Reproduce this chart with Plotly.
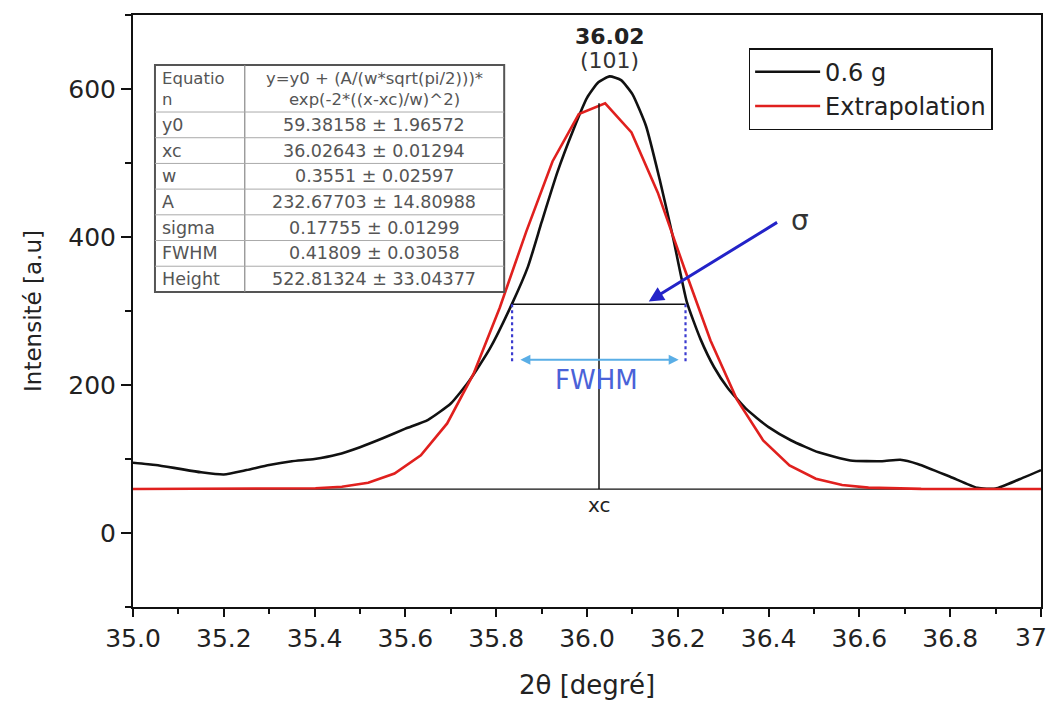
import plotly.graph_objects as go

# Measured XRD profile around the (101) reflection, sample 0.6 g
theta_x = [35.00, 35.05, 35.10, 35.15, 35.20, 35.25, 35.30, 35.35, 35.40, 35.45,
           35.50, 35.55, 35.60, 35.65, 35.70, 35.74, 35.785, 35.835, 35.87, 35.90,
           35.935, 35.97, 36.00, 36.025, 36.05, 36.075, 36.10, 36.13, 36.16, 36.19,
           36.22, 36.25, 36.28, 36.31, 36.35, 36.40, 36.45, 36.51, 36.58, 36.65,
           36.69, 36.73, 36.80, 36.86, 36.90, 36.95, 37.00]
intensity = [95, 92, 87, 82, 79, 85, 92, 97, 100, 106,
             116, 128, 141, 153, 175, 205, 248, 310, 360, 420,
             488, 545, 588, 609, 617, 612, 593, 550, 478, 398,
             312, 262, 224, 196, 168, 143, 125, 109, 98, 97,
             99, 93, 76, 61, 60, 72, 85]

# Gaussian fit ("Extrapolation") sampled on the fit grid
fit_x = [35.000, 35.344, 35.402, 35.460, 35.518, 35.576, 35.634, 35.692, 35.750,
         35.808, 35.866, 35.924, 35.982, 36.040, 36.098, 36.156, 36.214, 36.272,
         36.330, 36.388, 36.446, 36.504, 36.562, 36.620, 36.678, 36.736, 37.000]
fit_y = [59.4, 59.7, 60.5, 62.6, 68.0, 80.3, 104.9, 148.1, 215.0,
         304.7, 407.0, 502.1, 566.1, 580.7, 541.4, 459.9, 358.5, 260.2,
         180.6, 125.1, 91.4, 73.4, 64.9, 61.3, 60.0, 59.6, 59.4]

# Axis ticks (the last label is placed by hand at the page edge)
x_tickvals = [35.0, 35.2, 35.4, 35.6, 35.8, 36.0, 36.2, 36.4, 36.6, 36.8, 37.0]
x_ticktext = ["35.0", "35.2", "35.4", "35.6", "35.8", "36.0", "36.2", "36.4",
              "36.6", "36.8", ""]

# Fit report
param_names = ["y0", "xc", "w", "A", "sigma", "FWHM", "Height"]
param_values = ["59.38158 ± 1.96572", "36.02643 ± 0.01294", "0.3551 ± 0.02597",
                "232.67703 ± 14.80988", "0.17755 ± 0.01299", "0.41809 ± 0.03058",
                "522.81324 ± 33.04377"]
equation_label = "Equatio<br>n"
equation = "y=y0 + (A/(w*sqrt(pi/2)))*<br>exp(-2*((x-xc)/w)^2)"

y0 = 59.38158
xc = 36.02643
peak_top = 580.7
# FWHM marker: left/right ends, level, and arrow level
fwhm_left, fwhm_right, fwhm_level, fwhm_arrow_level = 35.835, 36.217, 309, 234

FONT = "DejaVu Sans, Liberation Sans, Arial, sans-serif"
INK = "#222222"
TABLE_INK = "#555555"

fig = go.Figure()

fig.add_trace(go.Scatter(
    x=theta_x, y=intensity, mode="lines", name="0.6 g",
    line=dict(color="#111111", width=2.6, shape="spline", smoothing=0.5),
))
fig.add_trace(go.Scatter(
    x=fit_x, y=fit_y, mode="lines", name="Extrapolation",
    line=dict(color="#e0201e", width=2.6),
))

shapes = [
    # baseline y0
    dict(type="line", xref="x", yref="y", x0=35, x1=37, y0=y0, y1=y0,
         line=dict(color="#111111", width=1.2), layer="below"),
    # peak centre xc
    dict(type="line", xref="x", yref="y", x0=xc, x1=xc, y0=y0, y1=peak_top,
         line=dict(color="#111111", width=1.5)),
    # half-maximum level
    dict(type="line", xref="x", yref="y", x0=fwhm_left, x1=fwhm_right,
         y0=fwhm_level, y1=fwhm_level, line=dict(color="#111111", width=1.5)),
    dict(type="line", xref="x", yref="y", x0=fwhm_left, x1=fwhm_left,
         y0=fwhm_level, y1=fwhm_arrow_level - 3,
         line=dict(color="#3b3bd0", width=2.2, dash="dot")),
    dict(type="line", xref="x", yref="y", x0=fwhm_right, x1=fwhm_right,
         y0=fwhm_level, y1=fwhm_arrow_level - 3,
         line=dict(color="#3b3bd0", width=2.2, dash="dot")),
]

annotations = [
    dict(x=36.05, y=671, xref="x", yref="y", text="<b>36.02</b>", showarrow=False,
         font=dict(family=FONT, size=22, color=INK)),
    dict(x=36.05, y=639, xref="x", yref="y", text="(101)", showarrow=False,
         font=dict(family=FONT, size=22, color="#333333")),
    dict(x=xc, y=38, xref="x", yref="y", text="xc", showarrow=False,
         font=dict(family=FONT, size=20, color=INK)),
    dict(x=36.02, y=207, xref="x", yref="y", text="FWHM", showarrow=False,
         font=dict(family=FONT, size=26, color="#4a62d8")),
    dict(x=36.47, y=422, xref="x", yref="y", text="σ", showarrow=False,
         font=dict(family=FONT, size=28, color="#333333")),
    # double-headed FWHM arrow
    dict(x=fwhm_right - 0.015, y=fwhm_arrow_level, ax=fwhm_left + 0.015,
         ay=fwhm_arrow_level, xref="x", yref="y", axref="x", ayref="y",
         text="", showarrow=True, arrowhead=2, arrowside="end+start",
         arrowsize=1, arrowwidth=2, arrowcolor="#5aaee6"),
    # sigma pointer
    dict(x=36.136, y=313, ax=36.422, ay=421, xref="x", yref="y", axref="x",
         ayref="y", text="", showarrow=True, arrowhead=2, arrowsize=1,
         arrowwidth=3, arrowcolor="#2323c8"),
    # last x tick label at the right edge of the page
    dict(x=1.0085, y=-0.0235, xref="paper", yref="paper", text="37",
         showarrow=False, xanchor="right", yanchor="top",
         font=dict(family=FONT, size=25, color=INK)),
]

# Fit report table, drawn in paper coordinates inside the plot area
tx0, tx1, tx2 = 0.0242, 0.1231, 0.4088
ty_top, ty_head = 0.9155, 0.8361
row_h = 0.04341
n_rows = len(param_names)
ty_bottom = ty_head - n_rows * row_h

shapes.append(dict(type="rect", xref="paper", yref="paper", x0=tx0, x1=tx2,
                   y0=ty_bottom, y1=ty_top, fillcolor="white",
                   line=dict(color="#555555", width=2), layer="above"))
shapes.append(dict(type="line", xref="paper", yref="paper", x0=tx1, x1=tx1,
                   y0=ty_bottom, y1=ty_top, line=dict(color="#888888", width=1.2)))
for k in range(n_rows):
    yb = ty_head - k * row_h
    shapes.append(dict(type="line", xref="paper", yref="paper", x0=tx0, x1=tx2,
                       y0=yb, y1=yb, line=dict(color="#aaaaaa", width=1)))

cell_font = dict(family=FONT, size=17.5, color=TABLE_INK)
head_mid = (ty_top + ty_head) / 2
annotations.append(dict(x=tx0 + 0.005, y=head_mid, xref="paper", yref="paper",
                        text=equation_label, showarrow=False, xanchor="left",
                        yanchor="middle", align="left",
                        font=dict(family=FONT, size=16.5, color=TABLE_INK)))
annotations.append(dict(x=(tx1 + tx2) / 2, y=head_mid, xref="paper", yref="paper",
                        text=equation, showarrow=False, xanchor="center",
                        yanchor="middle", align="center",
                        font=dict(family=FONT, size=16.5, color=TABLE_INK)))
for k, (name, val) in enumerate(zip(param_names, param_values)):
    ym = ty_head - (k + 0.5) * row_h
    annotations.append(dict(x=tx0 + 0.005, y=ym, xref="paper", yref="paper",
                            text=name, showarrow=False, xanchor="left",
                            yanchor="middle", font=cell_font))
    annotations.append(dict(x=(tx1 + tx2) / 2, y=ym, xref="paper", yref="paper",
                            text=val, showarrow=False, xanchor="center",
                            yanchor="middle", font=cell_font))

fig.update_layout(
    width=1052, height=707,
    margin=dict(l=133, r=9, t=15, b=100),
    paper_bgcolor="white", plot_bgcolor="white",
    font=dict(family=FONT, color=INK),
    shapes=shapes, annotations=annotations,
    legend=dict(
        x=0.678, y=0.944, xanchor="left", yanchor="top",
        bgcolor="white", bordercolor="#111111", borderwidth=1.5,
        font=dict(family=FONT, size=24, color=INK),
        itemwidth=65,
    ),
    showlegend=True,
)

fig.update_xaxes(
    range=[35, 37], tickvals=x_tickvals, ticktext=x_ticktext,
    ticks="outside", ticklen=8, tickwidth=2, tickcolor="#111111",
    showline=True, linecolor="#111111", linewidth=2, mirror=True,
    showgrid=False, zeroline=False,
    tickfont=dict(family=FONT, size=25, color=INK),
    minor=dict(dtick=0.1, ticks="outside", ticklen=5, tickwidth=1.5,
               tickcolor="#111111", showgrid=False),
    title=dict(text="2θ [degré]", font=dict(family=FONT, size=26, color=INK),
               standoff=24),
)
fig.update_yaxes(
    range=[-100, 700], tick0=0, dtick=200,
    ticks="outside", ticklen=10, tickwidth=2, tickcolor="#111111",
    showline=True, linecolor="#111111", linewidth=2, mirror=True,
    showgrid=False, zeroline=False,
    tickfont=dict(family=FONT, size=25, color=INK),
    minor=dict(dtick=100, ticks="outside", ticklen=6, tickwidth=1.5,
               tickcolor="#111111", showgrid=False),
    title=dict(text="Intensité [a.u]", font=dict(family=FONT, size=23, color=INK),
               standoff=20),
)

fig.write_html("out.html")
